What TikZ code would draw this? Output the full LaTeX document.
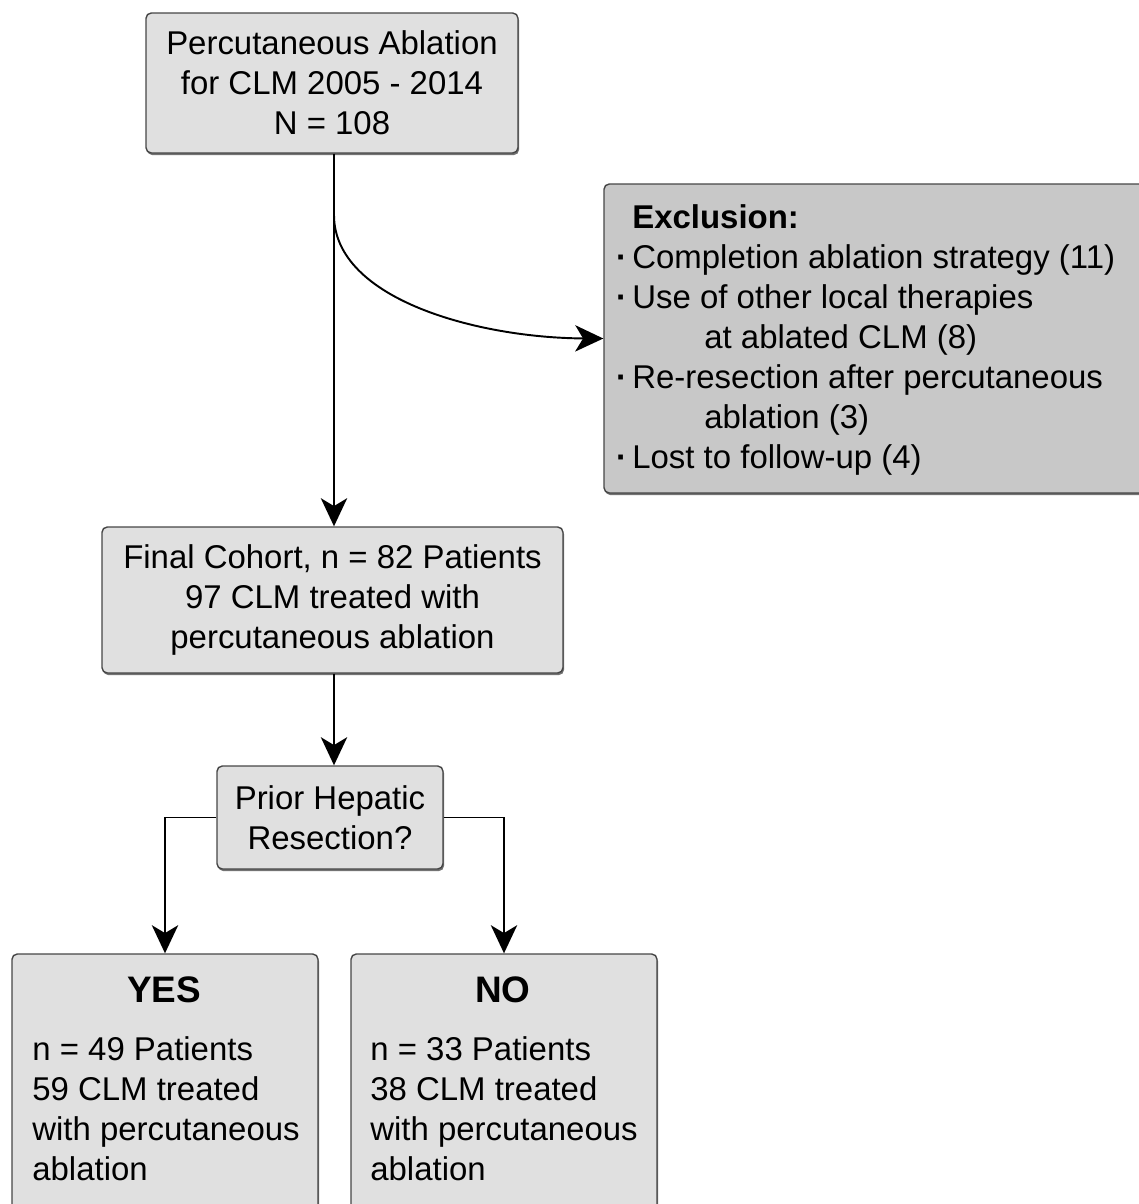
\documentclass[tikz,border=0pt]{standalone}
\usepackage{fontspec}
\setmainfont{Liberation Sans}
\usetikzlibrary{arrows.meta,shadows,calc}
\definecolor{boxlight}{RGB}{224,224,224}
\definecolor{boxdark}{RGB}{200,200,200}
\definecolor{boxline}{RGB}{70,70,70}
\newcommand\flowfont{\fontsize{18.75}{22.76}\selectfont}
\newcommand\titlefont{\fontsize{21}{24}\selectfont\bfseries}
\newcommand\bul{\llap{\textbf{·}\hspace{3pt}}}
\begin{document}
\begin{tikzpicture}[x=0.02cm,y=-0.02cm,
  box/.style={draw=boxline, line width=0.8pt, rounded corners=3pt, fill=boxlight,
    inner sep=0pt, align=center, font=\flowfont,
    drop shadow={shadow xshift=0.6pt, shadow yshift=-1.2pt, opacity=0.55, fill=black}},
  arr/.style={line width=1.1pt, -{Stealth[length=16pt,width=15pt,inset=4.5pt]}},
  ln/.style={anchor=base west, inner sep=0pt, font=\flowfont},
  ttl/.style={anchor=base, inner sep=0pt, font=\titlefont},
]
\useasboundingbox (0,0) rectangle (1139,1204);
\begin{scope}
\clip (0,0) rectangle (1139,1204);
\node[box, minimum width=372*0.02cm, minimum height=140*0.02cm] (top) at (332,83)
  {Percutaneous Ablation\\for CLM 2005 - 2014\\N = 108};
\node[box, fill=boxdark, minimum width=556*0.02cm, minimum height=309*0.02cm] (excl) at (882,338.5) {};
\node[box, minimum width=461*0.02cm, minimum height=146*0.02cm] (final) at (332.5,600)
  {Final Cohort, n = 82 Patients\\97 CLM treated with\\percutaneous ablation};
\node[box, minimum width=226*0.02cm, minimum height=103*0.02cm] (prior) at (330,817.5)
  {Prior Hepatic\\Resection?};
\node[box, minimum width=306*0.02cm, minimum height=276*0.02cm] (yes) at (165,1092) {};
\node[box, minimum width=306*0.02cm, minimum height=276*0.02cm] (no) at (504,1092) {};

\node[ln, font=\flowfont\bfseries] (ex0) at (632,228) {Exclusion:};
\node[ln] (ex1) at (632,268) {\bul Completion ablation strategy (11)};
\node[ln] (ex2) at (632,308) {\bul Use of other local therapies};
\node[ln] (ex3) at (704,348) {at ablated CLM (8)};
\node[ln] (ex4) at (632,388) {\bul Re-resection after percutaneous};
\node[ln] (ex5) at (704,428) {ablation (3)};
\node[ln] (ex6) at (632,468) {\bul Lost to follow-up (4)};

\node[ttl] (yest) at (164,1002) {YES};
\node[ln] (yes1) at (32,1060) {n = 49 Patients};
\node[ln] (yes2) at (32,1100) {59 CLM treated};
\node[ln] (yes3) at (32,1140) {with percutaneous};
\node[ln] (yes4) at (32,1180) {ablation};

\node[ttl] (not) at (503,1002) {NO};
\node[ln] (no1) at (370,1060) {n = 33 Patients};
\node[ln] (no2) at (370,1100) {38 CLM treated};
\node[ln] (no3) at (370,1140) {with percutaneous};
\node[ln] (no4) at (370,1180) {ablation};

\coordinate (spine) at (334,0);
\coordinate (branch) at (334,215);
\draw[arr] (top.south -| spine) -- (final.north -| spine);
\draw[arr] (branch) .. controls (334,300) and (480,338) .. (excl.west);
\draw[arr] (final.south -| spine) -- (prior.north -| spine);
\draw[arr] (prior.west) -| (yes.north);
\draw[arr] (prior.east) -| (no.north);
\end{scope}
\end{tikzpicture}
\end{document}
